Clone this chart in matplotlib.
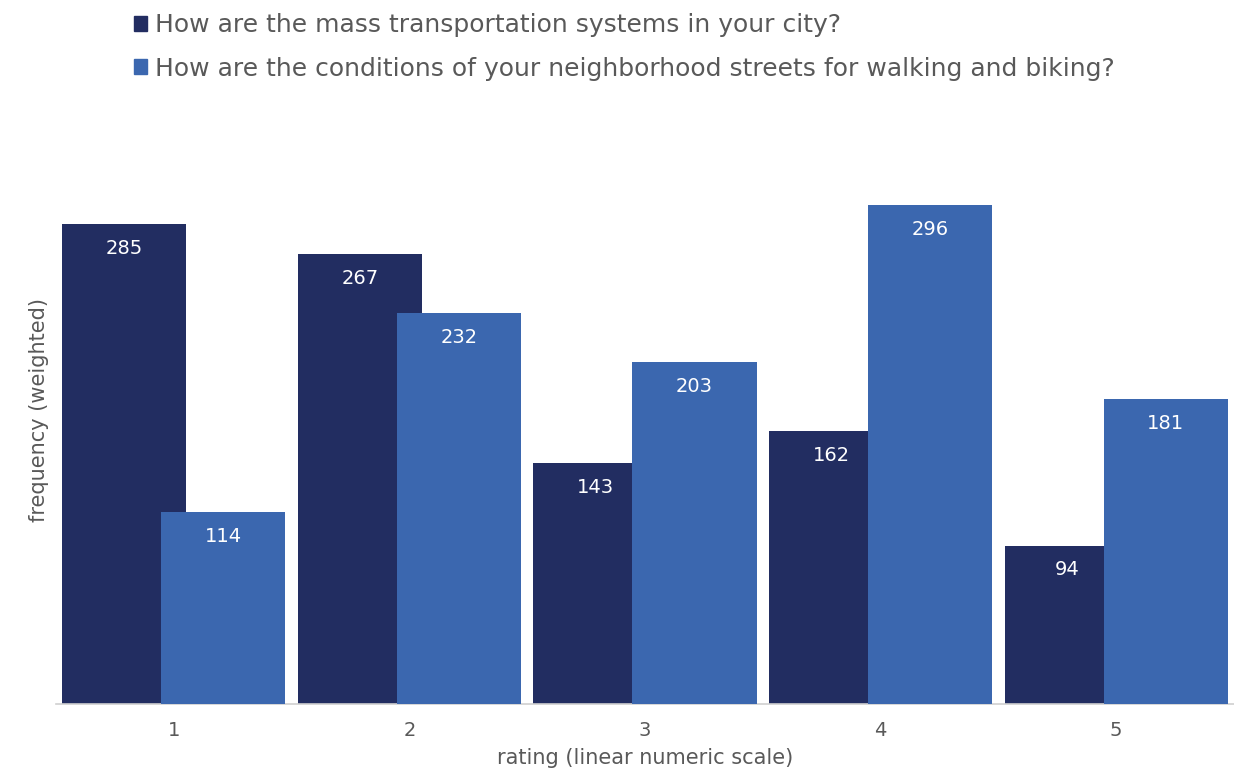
import numpy as np
import matplotlib.pyplot as plt
from matplotlib.patches import Patch

plt.rcParams['font.family'] = ['DejaVu Sans']

# data to plot
ratings = [1, 2, 3, 4, 5]
mass_transit = [285, 267, 143, 162, 94]
streets = [114, 232, 203, 296, 181]
series_labels = ['How are the mass transportation systems in your city?',
                 'How are the conditions of your neighborhood streets for walking and biking?']

dark = '#222d61'
light = '#3b67af'
grey = '#595959'

fig = plt.figure(figsize=(12.34, 7.71), dpi=100)
ax = fig.add_axes([0.0454, 0.0869, 0.9546, 0.699])

index = np.array(ratings, dtype=float)
bar_width = 0.527
shift = 0.21

b1 = ax.bar(index - shift, mass_transit, bar_width, color=dark, zorder=2)
b2 = ax.bar(index + shift, streets, bar_width, color=light, zorder=3)

# value labels inside the top of each bar
for bars, vals in ((b1, mass_transit), (b2, streets)):
    for rect, v in zip(bars, vals):
        ax.annotate(str(v), (rect.get_x() + rect.get_width() / 2, v),
                    xytext=(0, -17.5), textcoords='offset points',
                    ha='center', va='center', color='white', fontsize=14,
                    zorder=4)

ax.set_xlim(0.5, 5.5)
ax.set_ylim(0, 320)
ax.set_xticks(ratings)
ax.set_xticklabels([str(r) for r in ratings])
ax.tick_params(axis='x', length=0, pad=12, labelsize=14, labelcolor=grey)
ax.set_yticks([])
for side in ('top', 'right', 'left'):
    ax.spines[side].set_visible(False)
ax.spines['bottom'].set_color('#d0d0d0')
ax.spines['bottom'].set_linewidth(1.2)

ax.set_xlabel('rating (linear numeric scale)', fontsize=15, color=grey, labelpad=6)
ax.set_ylabel('frequency (weighted)', fontsize=15, color=grey)
ax.yaxis.set_label_coords(-0.006, 0.545)

handles = [Patch(color=dark), Patch(color=light)]
fig.legend(handles, series_labels, loc='upper left', bbox_to_anchor=(0.09, 1.012),
           frameon=False, fontsize=18, labelcolor=grey, handlelength=0.55,
           handleheight=0.55, handletextpad=0.3, labelspacing=0.78)

fig.savefig('out.png', dpi=100)
